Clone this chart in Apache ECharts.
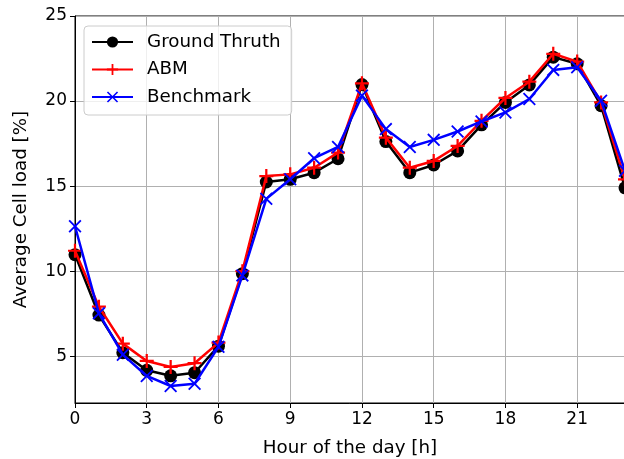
<!DOCTYPE html>
<html>
<head>
<meta charset="utf-8">
<script src="https://cdn.jsdelivr.net/npm/echarts@6/dist/echarts.min.js"></script>
<style>
html,body{margin:0;padding:0;background:#fff;}
#chart{width:624px;height:459px;}
</style>
</head>
<body>
<div id="chart"></div>
<script>
const hours = [0,1,2,3,4,5,6,7,8,9,10,11,12,13,14,15,16,17,18,19,20,21,22,23];
const groundTruth = [10.97,7.42,5.21,4.17,3.85,4.03,5.59,9.85,15.24,15.40,15.79,16.61,20.97,17.62,15.79,16.24,17.07,18.60,19.92,20.95,22.58,22.19,19.73,14.90];
const abm = [11.20,7.91,5.74,4.72,4.37,4.59,5.80,10.00,15.59,15.69,16.08,16.97,21.04,17.85,16.08,16.48,17.36,18.84,20.18,21.14,22.78,22.32,19.92,15.40];
const benchmark = [12.64,7.52,5.09,3.84,3.25,3.38,5.55,9.75,14.25,15.40,16.64,17.30,20.32,18.35,17.30,17.72,18.21,18.80,19.33,20.12,21.83,21.99,20.02,15.90];
const xTicks = [0,3,6,9,12,15,18,21];
const yTicks = [5,10,15,20,25];
const seriesNames = ['Ground Thruth','ABM','Benchmark'];

const FONT = 'DejaVu Sans';
const FS = 18.3;
const TFS = 17;
const plusPath = 'path://M4.2,0 H5.8 V4.2 H10 V5.8 H5.8 V10 H4.2 V5.8 H0 V4.2 H4.2 Z';
const xPath = 'path://M0,1 L1,0 L5,4 L9,0 L10,1 L6,5 L10,9 L9,10 L5,6 L1,10 L0,9 L4,5 Z';

function pairs(arr){ return hours.map((h,i)=>[h,arr[i]]); }

const chart = echarts.init(document.getElementById('chart'), null, {renderer:'canvas'});
chart.setOption({
  animation:false,
  backgroundColor:'#fff',
  textStyle:{fontFamily:FONT},
  grid:{left:75, top:16, width:550, height:387, containLabel:false, outerBoundsMode:'none',
        show:true, borderColor:'#000', borderWidth:1, backgroundColor:'transparent'},
  legend:{
    orient:'vertical', left:84, top:26,
    data:seriesNames,
    itemWidth:41, itemHeight:14, itemGap:7.5,
    padding:[6,11,8,7],
    backgroundColor:'rgba(255,255,255,0.8)',
    borderColor:'#cccccc', borderWidth:1, borderRadius:4,
    textStyle:{fontFamily:FONT, fontSize:FS, color:'#000', lineHeight:20, padding:[0,0,0,9]}
  },
  xAxis:{
    type:'value', min:0, max:23,
    name:'Hour of the day [h]', nameLocation:'middle', nameGap:36,
    nameTextStyle:{fontFamily:FONT, fontSize:FS, color:'#000'},
    axisLine:{show:true, onZero:false, lineStyle:{color:'#000', width:1}},
    axisTick:{show:true, inside:false, length:5, lineStyle:{color:'#000'}, customValues:xTicks},
    axisLabel:{fontFamily:FONT, fontSize:TFS, color:'#000', margin:8, customValues:xTicks},
    splitLine:{show:true, lineStyle:{color:'#b0b0b0', width:1}}
  },
  yAxis:{
    type:'value', min:2.25, max:25,
    name:'Average Cell load [%]', nameLocation:'middle', nameGap:45,
    nameTextStyle:{fontFamily:FONT, fontSize:FS, color:'#000'},
    axisLine:{show:true, onZero:false, lineStyle:{color:'#000', width:1}},
    axisTick:{show:true, inside:false, length:5, lineStyle:{color:'#000'}, customValues:yTicks},
    axisLabel:{fontFamily:FONT, fontSize:TFS, color:'#000', margin:8, customValues:yTicks},
    splitLine:{show:true, lineStyle:{color:'#b0b0b0', width:1}}
  },
  series:[
    {name:seriesNames[0], type:'line', data:pairs(groundTruth), symbol:'circle', symbolSize:13,
     lineStyle:{color:'#000', width:2.5}, itemStyle:{color:'#000'}, z:2},
    {name:seriesNames[1], type:'line', data:pairs(abm), symbol:plusPath, symbolSize:14,
     lineStyle:{color:'#ff0000', width:2.5}, itemStyle:{color:'#ff0000'}, z:3},
    {name:seriesNames[2], type:'line', data:pairs(benchmark), symbol:xPath, symbolSize:13,
     lineStyle:{color:'#0000ff', width:2.5}, itemStyle:{color:'#0000ff'}, z:4}
  ]
});
</script>
</body>
</html>
